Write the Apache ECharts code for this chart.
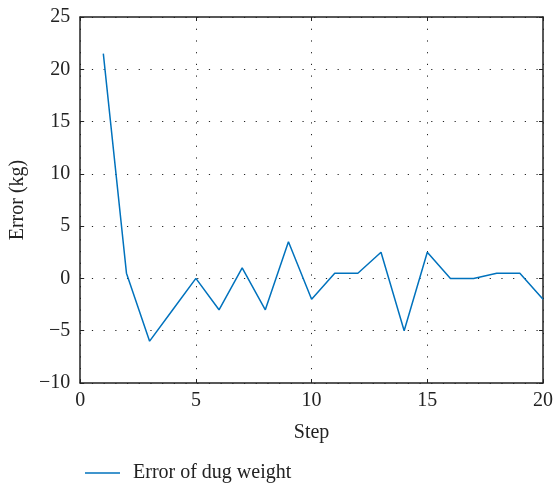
<!DOCTYPE html>
<html><head><meta charset="utf-8">
<script src="https://cdn.jsdelivr.net/npm/echarts@6/dist/echarts.min.js"></script>
<style>html,body{margin:0;padding:0;background:#fff}#c{width:556px;height:485px}</style>
</head><body><div id="c"></div>
<script>
const steps = [1,2,3,4,5,6,7,8,9,10,11,12,13,14,15,16,17,18,19,20];
const errors = [21.5,0.5,-6,-3,0,-3,1,-3,3.5,-2,0.5,0.5,2.5,-5,2.5,0,0,0.5,0.5,-2];
const seriesName = 'Error of dug weight';
const FONT = 'Liberation Serif';
const FS = 20;
const chart = echarts.init(document.getElementById('c'));
const grid = {left:79, right:9, top:17, bottom:102};
const dotted = {show:true, lineStyle:{color:'#222', width:1, type:[1.2,10.5]}};
chart.setOption({
  animation:false,
  textStyle:{fontFamily:FONT},
  grid:grid,
  legend:{left:80, top:458, data:[{name:seriesName, icon:'rect'}], itemWidth:35, itemHeight:1.5,
    textStyle:{fontFamily:FONT, fontSize:FS, color:'#222', padding:[0,0,0,8]}},
  xAxis:[{type:'value', min:0, max:20, interval:5, name:'Step', nameLocation:'middle', nameGap:40,
    nameTextStyle:{fontFamily:FONT, fontSize:FS, color:'#222'},
    axisLine:{show:true, onZero:false, lineStyle:{color:'#222', width:1.5}},
    axisTick:{show:true, inside:true, length:4, lineStyle:{color:'#222'}},
    axisLabel:{fontFamily:FONT, fontSize:FS, color:'#222', margin:8},
    splitLine:dotted},
   {type:'value', position:'top', min:0, max:20, interval:5,
    axisLine:{show:true, onZero:false, lineStyle:{color:'#222', width:1.5}},
    axisTick:{show:true, inside:true, length:4, lineStyle:{color:'#222'}},
    axisLabel:{show:false}, splitLine:{show:false}}],
  yAxis:[{type:'value', min:-10, max:25, interval:5, name:'Error (kg)', nameLocation:'middle', nameGap:47,
    nameTextStyle:{fontFamily:FONT, fontSize:FS, color:'#222'},
    axisLine:{show:true, onZero:false, lineStyle:{color:'#222', width:1.5}},
    axisTick:{show:true, inside:true, length:4, lineStyle:{color:'#222'}},
    axisLabel:{fontFamily:FONT, fontSize:FS, color:'#222', margin:10, formatter:v=>String(v).replace('-','\u2212')},
    splitLine:dotted},
   {type:'value', position:'right', min:-10, max:25, interval:5,
    axisLine:{show:true, onZero:false, lineStyle:{color:'#222', width:1.5}},
    axisTick:{show:true, inside:true, length:4, lineStyle:{color:'#222'}},
    axisLabel:{show:false}, splitLine:{show:false}}],
  series:[{name:seriesName, type:'line', data:steps.map((s,i)=>[s,errors[i]]),
    showSymbol:false, symbol:'none', lineStyle:{color:'#0072BD', width:1.5}, itemStyle:{color:'#0072BD'}}]
});
</script></body></html>
